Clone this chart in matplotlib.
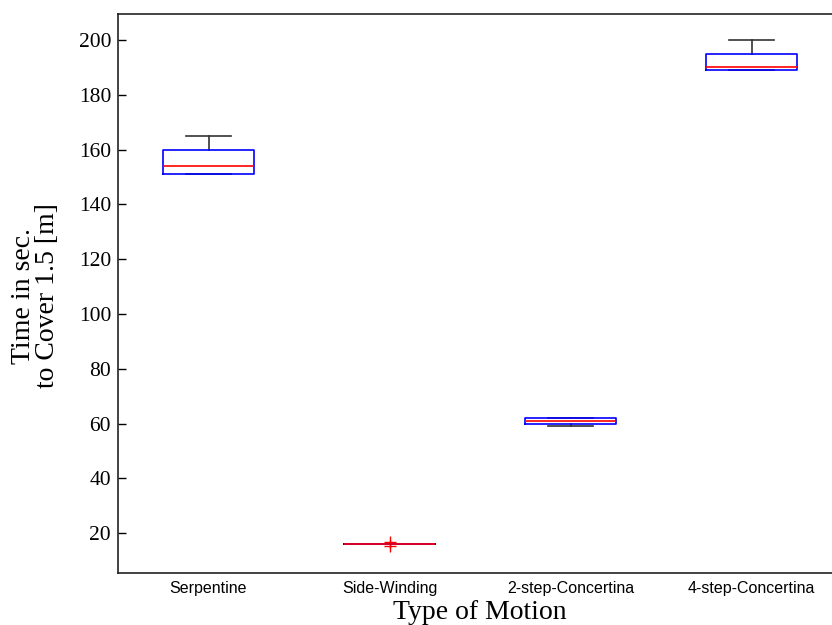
import matplotlib
matplotlib.use("Agg")
import matplotlib.pyplot as plt

# box statistics (seconds)
motions = ["Serpentine", "Side-Winding", "2-step-Concertina", "4-step-Concertina"]
whisker_low = [151, 16, 59, 189]
q1 = [151, 16, 60, 189]
median = [154, 16, 61, 190]
q3 = [160, 16, 62, 195]
whisker_high = [165, 16, 62, 200]
outliers = [[], [15.3, 16.9], [], []]

stats = []
for i in range(len(motions)):
    stats.append(dict(label=motions[i], whislo=whisker_low[i], q1=q1[i],
                      med=median[i], q3=q3[i], whishi=whisker_high[i],
                      fliers=outliers[i]))

fig = plt.figure(figsize=(8.32, 6.25), dpi=100)
# the original is cropped on the right, so the axes run past the edge
ax = fig.add_axes([118 / 832, 52 / 625, 724 / 832, 559 / 625])

ax.bxp(stats, positions=[1, 2, 3, 4], widths=0.5,
       boxprops=dict(color="blue", linewidth=1.2, zorder=3),
       medianprops=dict(color="red", linewidth=1.2, zorder=4),
       whiskerprops=dict(color="#333333", linewidth=1.2, zorder=2),
       capprops=dict(color="#333333", linewidth=1.2, zorder=2),
       capwidths=0.25,
       flierprops=dict(marker="+", markeredgecolor="red", markersize=9,
                       markeredgewidth=1.0, linestyle="none"))

ax.set_xlim(0.5, 4.5)
ax.set_ylim(5.5, 209.5)
ax.set_yticks(range(20, 201, 20))
ax.tick_params(axis="y", direction="in", length=6, width=1, labelsize=15.5, pad=5)
ax.tick_params(axis="x", length=0, pad=6, labelsize=11.5)
for lab in ax.get_yticklabels():
    lab.set_family("Liberation Serif")
for lab in ax.get_xticklabels():
    lab.set_family("Liberation Sans")

for sp in ax.spines.values():
    sp.set_linewidth(1.2)
    sp.set_color("#222222")

ax.set_xlabel("Type of Motion", family="Liberation Serif", fontsize=20)
ax.set_ylabel("Time in sec.\nto Cover 1.5 [m]", family="Liberation Serif",
              fontsize=20, linespacing=0.95)
ax.xaxis.set_label_coords(0.5, -0.048)
ax.yaxis.set_label_coords(-0.080, 0.496)

fig.savefig("out.png", dpi=100)
